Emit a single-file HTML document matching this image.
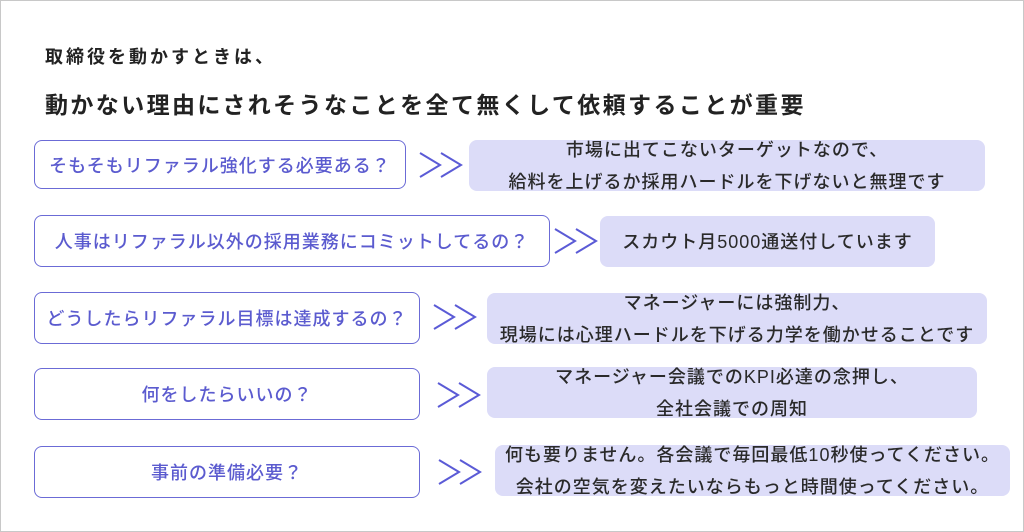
<!DOCTYPE html>
<html><head><meta charset="utf-8"><style>
html,body{margin:0;padding:0;background:#fff;}
#c{position:relative;width:1022px;height:530px;border:1px solid #c8c8c8;overflow:hidden;font-family:"Liberation Sans","Noto Sans CJK JP",sans-serif;}
.t{position:absolute;color:#222;font-weight:700;white-space:nowrap;}
.l{position:absolute;box-sizing:border-box;border:1.5px solid #6b6bd6;border-radius:8px;color:#5b5bcf;font-size:18px;font-weight:500;letter-spacing:1px;display:flex;align-items:center;justify-content:center;white-space:nowrap;}
.r{position:absolute;box-sizing:border-box;background:#dcdcf8;border-radius:8px;color:#2a2a2a;font-size:18px;font-weight:500;letter-spacing:1px;display:flex;flex-direction:column;align-items:center;justify-content:center;white-space:nowrap;line-height:32px;}
.a{position:absolute;width:46px;height:28px;}
</style></head><body><div id="c">
<div class="t" style="left:44px;top:42px;font-size:18px;letter-spacing:3px;">取締役を動かすときは、</div>
<div class="t" style="left:44px;top:85px;font-size:23px;letter-spacing:2.4px;">動かない理由にされそうなことを全て無くして依頼することが重要</div>

<div class="l" style="left:33px;top:139px;width:372px;height:49px;">そもそもリファラル強化する必要ある？</div>
<svg class="a" style="left:417px;top:150px;" viewBox="0 0 46 28"><polyline points="2,2 22,14 2,26" fill="none" stroke="#5b5bd6" stroke-width="2"/><polyline points="23,2 43,14 23,26" fill="none" stroke="#5b5bd6" stroke-width="2"/></svg>
<div class="r" style="left:468px;top:139px;width:516px;height:51px;"><span>市場に出てこないターゲットなので、</span><span>給料を上げるか採用ハードルを下げないと無理です</span></div>

<div class="l" style="left:33px;top:214px;width:516px;height:52px;">人事はリファラル以外の採用業務にコミットしてるの？</div>
<svg class="a" style="left:552px;top:226px;" viewBox="0 0 46 28"><polyline points="2,2 22,14 2,26" fill="none" stroke="#5b5bd6" stroke-width="2"/><polyline points="23,2 43,14 23,26" fill="none" stroke="#5b5bd6" stroke-width="2"/></svg>
<div class="r" style="left:599px;top:215px;width:335px;height:51px;">スカウト月5000通送付しています</div>

<div class="l" style="left:33px;top:291px;width:386px;height:52px;">どうしたらリファラル目標は達成するの？</div>
<svg class="a" style="left:431px;top:302px;" viewBox="0 0 46 28"><polyline points="2,2 22,14 2,26" fill="none" stroke="#5b5bd6" stroke-width="2"/><polyline points="23,2 43,14 23,26" fill="none" stroke="#5b5bd6" stroke-width="2"/></svg>
<div class="r" style="left:486px;top:292px;width:500px;height:51px;"><span>マネージャーには強制力、</span><span>現場には心理ハードルを下げる力学を働かせることです</span></div>

<div class="l" style="left:33px;top:367px;width:386px;height:52px;">何をしたらいいの？</div>
<svg class="a" style="left:435px;top:380px;" viewBox="0 0 46 28"><polyline points="2,2 22,14 2,26" fill="none" stroke="#5b5bd6" stroke-width="2"/><polyline points="23,2 43,14 23,26" fill="none" stroke="#5b5bd6" stroke-width="2"/></svg>
<div class="r" style="left:486px;top:366px;width:490px;height:51px;"><span>マネージャー会議でのKPI必達の念押し、</span><span>全社会議での周知</span></div>

<div class="l" style="left:33px;top:445px;width:386px;height:52px;">事前の準備必要？</div>
<svg class="a" style="left:436px;top:457px;" viewBox="0 0 46 28"><polyline points="2,2 22,14 2,26" fill="none" stroke="#5b5bd6" stroke-width="2"/><polyline points="23,2 43,14 23,26" fill="none" stroke="#5b5bd6" stroke-width="2"/></svg>
<div class="r" style="left:494px;top:444px;width:515px;height:51px;"><span>何も要りません。各会議で毎回最低10秒使ってください。</span><span>会社の空気を変えたいならもっと時間使ってください。</span></div>
</div></body></html>
